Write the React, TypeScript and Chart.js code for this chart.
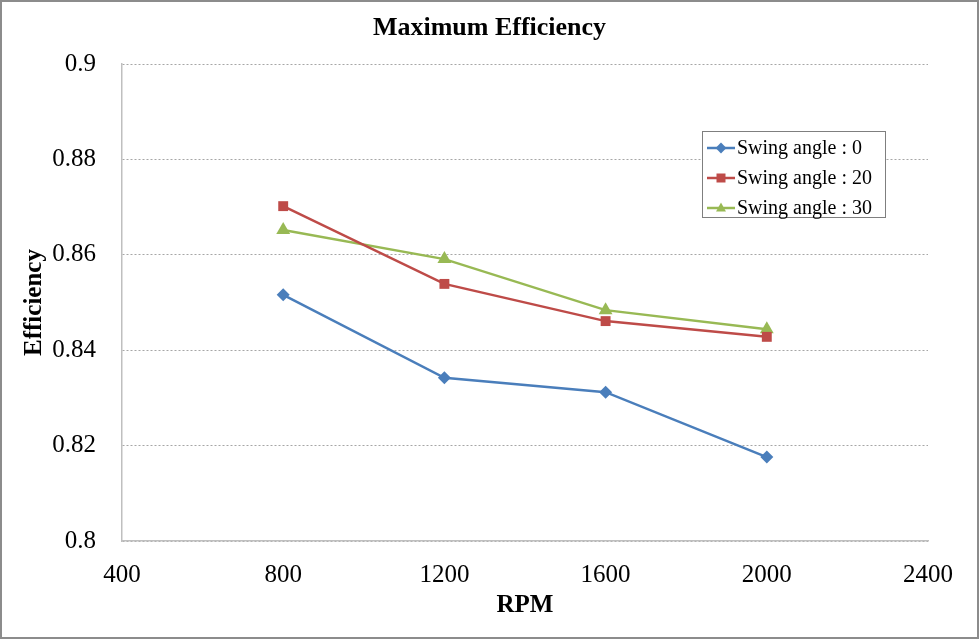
import React, { useEffect, useRef } from "react";
import { Chart, registerables } from "chart.js";

Chart.register(...registerables);

const rpm = [800, 1200, 1600, 2000];
const chartTitle = "Maximum Efficiency";
const seriesNames = ["Swing angle : 0", "Swing angle : 20", "Swing angle : 30"];
const angle0 = [0.8516, 0.8342, 0.8312, 0.8176];
const angle20 = [0.8702, 0.8539, 0.8461, 0.8428];
const angle30 = [0.8652, 0.8591, 0.8484, 0.8444];
const colors = ["#4A7EBB", "#BE4B48", "#98B954"];
const markers = ["rectRot", "rect", "triangle"];
const markerSizes = [6.5, 7, 8];

const FONT = "'Liberation Serif', 'Times New Roman', serif";

function drawMarker(ctx: CanvasRenderingContext2D, style: string, x: number, y: number, r: number) {
  ctx.beginPath();
  if (style === "rectRot") {
    ctx.moveTo(x, y - r * 1.2);
    ctx.lineTo(x + r * 1.2, y);
    ctx.lineTo(x, y + r * 1.2);
    ctx.lineTo(x - r * 1.2, y);
  } else if (style === "rect") {
    ctx.rect(x - r, y - r, 2 * r, 2 * r);
  } else {
    ctx.moveTo(x, y - r * 1.2);
    ctx.lineTo(x + r * 1.1, y + r * 0.8);
    ctx.lineTo(x - r * 1.1, y + r * 0.8);
  }
  ctx.closePath();
  ctx.fill();
}

const decorPlugin = {
  id: "decor",
  afterDraw(chart: any) {
    const ctx = chart.ctx;
    ctx.save();
    // title
    ctx.fillStyle = "#000";
    ctx.font = `bold 26px ${FONT}`;
    ctx.textAlign = "center";
    ctx.textBaseline = "middle";
    ctx.fillText(chartTitle, chart.width / 2, 28);
    // outer frame
    ctx.strokeStyle = "#8C8C8C";
    ctx.lineWidth = 2;
    ctx.strokeRect(1, 1, chart.width - 2, chart.height - 2);
    // legend box
    const bx = 702.5, by = 131.5, bw = 183, bh = 86;
    ctx.fillStyle = "#FFFFFF";
    ctx.fillRect(bx, by, bw, bh);
    ctx.strokeStyle = "#7F7F7F";
    ctx.lineWidth = 1;
    ctx.strokeRect(bx, by, bw, bh);
    chart.data.datasets.forEach((ds: any, i: number) => {
      const cy = 148 + i * 30;
      ctx.strokeStyle = ds.borderColor;
      ctx.lineWidth = 2.5;
      ctx.beginPath();
      ctx.moveTo(707, cy);
      ctx.lineTo(735, cy);
      ctx.stroke();
      ctx.fillStyle = ds.backgroundColor;
      drawMarker(ctx, ds.pointStyle, 721, cy, 4.5);
      ctx.fillStyle = "#000000";
      ctx.font = `20px ${FONT}`;
      ctx.textBaseline = "middle";
      ctx.textAlign = "left";
      ctx.fillText(ds.label, 737, cy + 1);
    });
    ctx.restore();
  },
};

export default function App() {
  const ref = useRef<HTMLCanvasElement>(null);
  useEffect(() => {
    document.body.style.margin = "0";
    const values = [angle0, angle20, angle30];
    const chart = new Chart(ref.current as HTMLCanvasElement, {
      type: "line",
      data: {
        datasets: values.map((vals, i) => ({
          label: seriesNames[i],
          data: rpm.map((x, j) => ({ x, y: vals[j] })),
          borderColor: colors[i],
          backgroundColor: colors[i],
          pointStyle: markers[i] as any,
          pointRadius: markerSizes[i],
          borderWidth: 2.5,
          pointBorderWidth: 0,
          tension: 0,
        })),
      },
      plugins: [decorPlugin],
      options: {
        animation: false,
        responsive: false,
        layout: { padding: { left: 0, right: 51, top: 64, bottom: 0 } },
        plugins: {
          legend: { display: false },
          tooltip: { enabled: false },
          title: { display: false },
        },
        scales: {
          x: {
            type: "linear",
            min: 400,
            max: 2400,
            ticks: {
              stepSize: 400,
              color: "#000",
              font: { family: FONT, size: 25 },
              padding: 19,
              maxRotation: 0,
              callback: (v: any) => String(v),
            },
            grid: { display: false, drawTicks: false },
            border: { display: true, color: "#BFBFBF", width: 1.5 },
            title: {
              display: true,
              text: "RPM",
              color: "#000",
              font: { family: FONT, size: 25, weight: "bold" },
              padding: { top: 0, bottom: 18 },
            },
            afterFit(scale: any) {
              scale.height = 98;
            },
          },
          y: {
            min: 0.8,
            max: 0.9,
            ticks: {
              stepSize: 0.02,
              color: "#000",
              font: { family: FONT, size: 25 },
              padding: 26,
              callback: (v: any) => String(Math.round(Number(v) * 100) / 100),
            },
            grid: {
              drawTicks: false,
              color: "#A6A6A6",
              lineWidth: 1,
            },
            border: { display: true, color: "#BFBFBF", width: 1.5, dash: [2, 2] as any },
            title: {
              display: true,
              text: "Efficiency",
              color: "#000",
              font: { family: FONT, size: 25, weight: "bold" },
              padding: { top: 20, bottom: 0 },
            },
            afterFit(scale: any) {
              scale.width = 122;
            },
          },
        },
      } as any,
    });
    return () => chart.destroy();
  }, []);
  return <canvas ref={ref} width={979} height={639} style={{ display: "block" }} />;
}
